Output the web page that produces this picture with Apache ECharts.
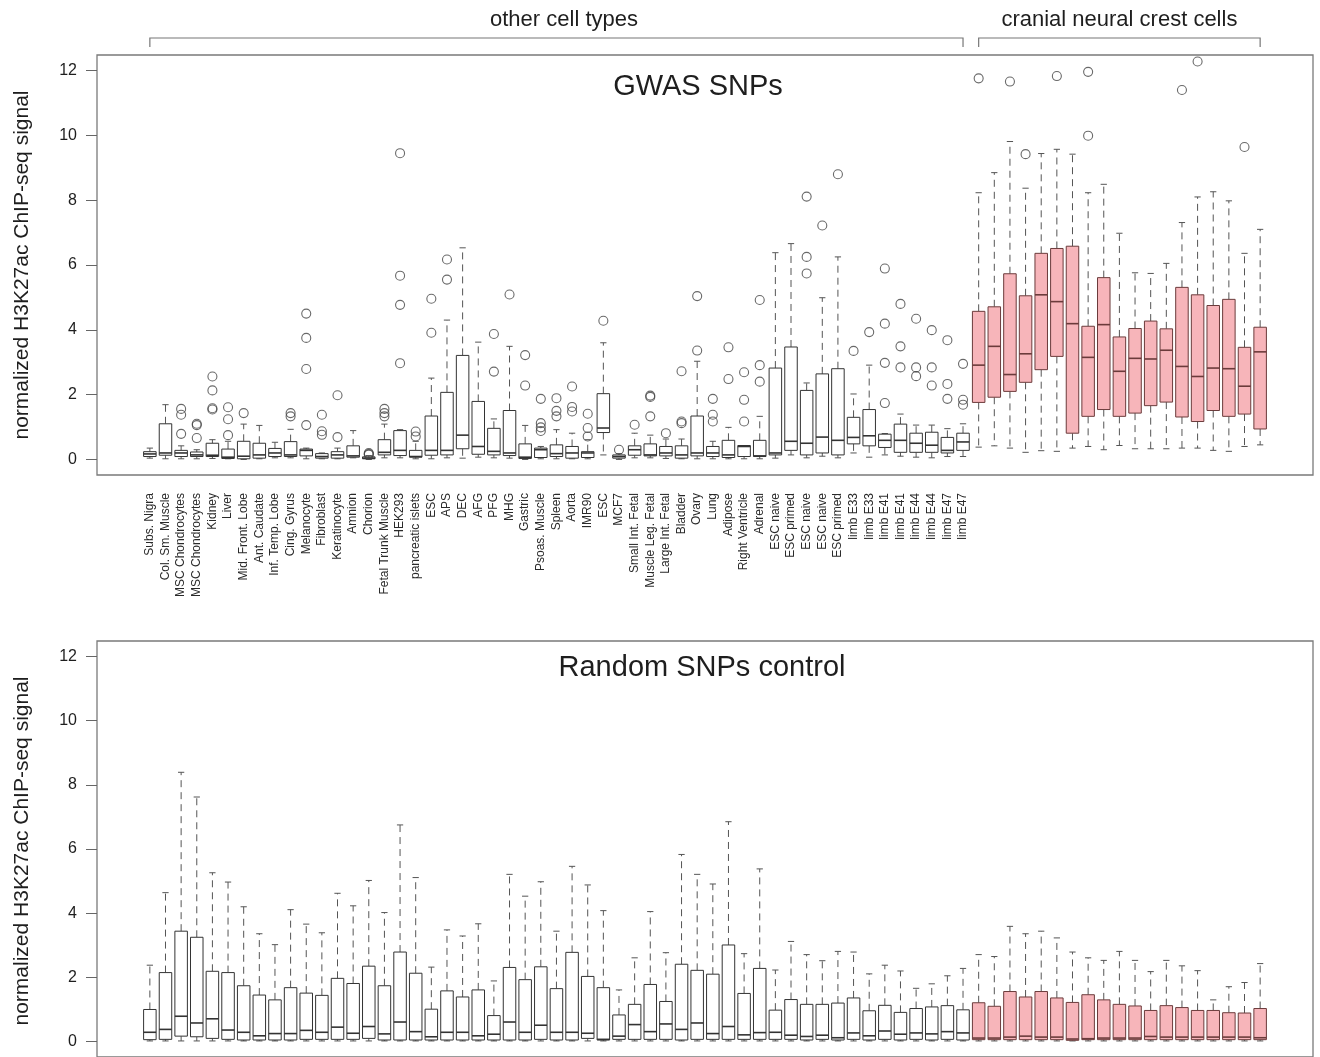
<!DOCTYPE html>
<html>
<head>
<meta charset="utf-8">
<script src="https://cdn.jsdelivr.net/npm/echarts@6/dist/echarts.min.js"></script>
<style>
html,body{margin:0;padding:0;background:#fff;}
#chart{width:1320px;height:1057px;}
</style>
</head>
<body>
<div id="chart"></div>
<script>
// ---------- DATA ----------
const otherCellTypes = ["Subs. Nigra","Col. Sm. Muscle","MSC Chondrocytes","MSC Chondrocytes","Kidney","Liver","Mid. Front. Lobe","Ant. Caudate","Inf. Temp. Lobe","Cing. Gyrus","Melanocyte","Fibroblast","Keratinocyte","Amnion","Chorion","Fetal Trunk Muscle","HEK293","pancreatic islets","ESC","APS","DEC","AFG","PFG","MHG","Gastric","Psoas. Muscle","Spleen","Aorta","IMR90","ESC","MCF7","Small Int. Fetal","Muscle Leg. Fetal","Large Int. Fetal","Bladder","Ovary","Lung","Adipose","Right Ventricle","Adrenal","ESC naive","ESC primed","ESC naive","ESC naive","ESC primed","limb E33","limb E33","limb E41","limb E41","limb E44","limb E44","limb E47","limb E47"];
const cnccCount = 19;
const yTicks = [0, 2, 4, 6, 8, 10, 12];

// GWAS SNPs panel (72 boxes: 53 other cell types + 19 CNCC)
const gwasLow  = [0.04,0.02,0.02,0.02,0.03,0.02,0.00,0.02,0.05,0.05,0.02,0.02,0.02,0.05,0.00,0.05,0.05,0.02,0.02,0.05,0.04,0.07,0.05,0.04,0.00,0.02,0.02,0.02,0.02,0.14,0.00,0.05,0.05,0.03,0.02,0.02,0.02,0.02,0.02,0.02,0.04,0.14,0.05,0.10,0.05,0.20,0.07,0.14,0.10,0.07,0.05,0.09,0.09,
                  0.38,0.42,0.35,0.22,0.27,0.25,0.35,0.40,0.30,0.43,0.33,0.33,0.33,0.35,0.35,0.28,0.25,0.40,0.45];
const gwasQ1   = [0.09,0.13,0.09,0.09,0.09,0.03,0.02,0.04,0.09,0.09,0.11,0.04,0.04,0.07,0.02,0.14,0.12,0.07,0.13,0.14,0.33,0.16,0.14,0.12,0.03,0.06,0.09,0.04,0.06,0.83,0.04,0.13,0.11,0.11,0.04,0.11,0.09,0.06,0.09,0.09,0.14,0.28,0.14,0.20,0.14,0.48,0.42,0.37,0.22,0.22,0.22,0.20,0.28,
                  1.76,1.92,2.10,2.38,2.77,3.18,0.81,1.33,1.54,1.33,1.43,1.66,1.77,1.31,1.17,1.51,1.33,1.40,0.94];
const gwasMed  = [0.17,0.20,0.20,0.14,0.13,0.07,0.10,0.14,0.20,0.14,0.28,0.09,0.14,0.11,0.04,0.22,0.28,0.09,0.28,0.28,0.75,0.40,0.25,0.20,0.07,0.30,0.18,0.20,0.20,0.97,0.09,0.30,0.14,0.20,0.14,0.20,0.20,0.14,0.40,0.11,0.20,0.56,0.50,0.69,0.59,0.68,0.73,0.59,0.59,0.50,0.44,0.28,0.54,
                  2.91,3.49,2.62,3.26,5.08,4.87,4.19,3.15,4.16,2.72,3.12,3.10,3.37,2.87,2.56,2.82,2.80,2.26,3.32];
const gwasQ3   = [0.24,1.10,0.28,0.23,0.50,0.32,0.56,0.50,0.34,0.55,0.32,0.18,0.24,0.42,0.08,0.61,0.89,0.28,1.34,2.07,3.21,1.79,0.96,1.51,0.48,0.35,0.45,0.40,0.24,2.03,0.14,0.42,0.48,0.40,0.42,1.34,0.40,0.59,0.43,0.59,2.82,3.47,2.13,2.64,2.80,1.30,1.54,0.78,1.09,0.81,0.84,0.68,0.81,
                  4.57,4.71,5.73,5.05,6.36,6.51,6.58,4.11,5.61,3.78,4.04,4.27,4.03,5.31,5.08,4.75,4.94,3.46,4.08];
const gwasHigh = [0.35,1.69,0.42,0.30,0.61,0.56,1.09,1.05,0.53,0.93,0.35,0.20,0.35,0.89,0.12,1.09,0.92,0.56,2.51,4.30,6.53,3.62,1.25,3.49,1.05,0.40,0.92,0.81,0.61,3.60,0.18,0.81,0.75,0.63,0.63,3.03,0.56,0.99,0.43,1.33,6.38,6.66,2.36,4.99,6.25,2.02,2.91,0.80,1.40,1.06,1.06,0.95,1.10,
                  8.23,8.85,9.81,8.37,9.44,9.57,9.42,8.23,8.49,6.98,5.76,5.74,6.05,7.31,8.10,8.26,7.98,6.36,7.10];
const gwasOutliers = [[],[],[1.56,1.38,0.79],[1.10,1.06,0.66],[2.56,2.13,1.58,1.54],[1.61,1.24,0.75],[1.43],[],[],[1.43,1.33],
  [4.50,3.75,2.79,1.06],[1.38,0.87,0.76],[1.98,0.69],[],[0.20,0.17,0.15],[1.56,1.43,1.33],[9.45,5.67,4.77,2.97],[0.86,0.71],[4.96,3.91],[6.17,5.55],
  [],[],[3.87,2.71],[5.09],[3.22,2.28],[1.87,1.12,0.99,0.88],[1.89,1.50,1.33],[2.25,1.62,1.48],[1.41,0.97,0.71],[4.28],
  [0.30],[1.07],[1.97,1.93,1.33],[0.81],[2.72,1.17,1.12],[5.04,3.36],[1.87,1.38,1.17],[3.46,2.48],[2.69,1.84,1.17],[4.92,2.91,2.40],
  [],[],[8.11,6.25,5.74],[7.22],[8.80],[3.35],[3.93],[5.89,4.19,2.98,1.74],[4.80,3.49,2.84],[4.34,2.84,2.57],
  [3.99,2.84,2.28],[3.68,2.33,1.87],[2.95,1.84,1.69],
  [11.76],[],[11.66],[9.42],[],[11.83],[],[11.96,9.99],[],[],[],[],[],[11.40],[12.28],[],[],[9.64],[]];

// Random SNPs control panel
const randLow  = [0.02,0.02,0.02,0.02,0.02,0.02,0.02,0.02,0.02,0.02,0.02,0.02,0.02,0.02,0.02,0.02,0.02,0.02,0.02,0.02,0.02,0.02,0.02,0.02,0.02,0.02,0.02,0.02,0.02,0.02,0.02,0.02,0.02,0.02,0.02,0.02,0.02,0.02,0.02,0.02,0.02,0.02,0.02,0.02,0.02,0.02,0.02,0.02,0.02,0.02,0.02,0.02,0.02,
                  0.02,0.02,0.02,0.02,0.02,0.02,0.02,0.02,0.02,0.02,0.02,0.02,0.02,0.02,0.02,0.02,0.02,0.02,0.02];
const randQ1   = [0.06,0.07,0.17,0.15,0.10,0.07,0.05,0.05,0.05,0.05,0.07,0.07,0.07,0.07,0.10,0.05,0.05,0.05,0.05,0.05,0.05,0.05,0.05,0.05,0.05,0.07,0.05,0.05,0.10,0.05,0.07,0.07,0.07,0.07,0.05,0.07,0.07,0.07,0.07,0.07,0.07,0.07,0.05,0.07,0.05,0.07,0.05,0.07,0.05,0.07,0.05,0.07,0.05,
                  0.06,0.06,0.06,0.06,0.06,0.06,0.04,0.06,0.06,0.06,0.06,0.06,0.06,0.06,0.06,0.06,0.06,0.06,0.06];
const randMed  = [0.29,0.38,0.79,0.58,0.71,0.36,0.29,0.18,0.25,0.25,0.35,0.29,0.45,0.26,0.47,0.24,0.61,0.31,0.15,0.29,0.29,0.18,0.23,0.61,0.29,0.51,0.29,0.29,0.26,0.07,0.17,0.53,0.31,0.55,0.38,0.58,0.25,0.47,0.21,0.28,0.29,0.20,0.16,0.20,0.12,0.27,0.18,0.33,0.23,0.27,0.24,0.31,0.27,
                  0.11,0.11,0.14,0.17,0.14,0.14,0.08,0.09,0.11,0.11,0.11,0.16,0.14,0.14,0.14,0.14,0.14,0.14,0.12];
const randQ3   = [1.00,2.15,3.44,3.25,2.19,2.15,1.74,1.45,1.30,1.68,1.51,1.44,1.97,1.81,2.35,1.74,2.79,2.13,1.01,1.58,1.39,1.61,0.81,2.31,1.93,2.33,1.65,2.78,2.03,1.68,0.83,1.16,1.78,1.25,2.41,2.22,2.10,3.01,1.50,2.28,0.98,1.31,1.16,1.16,1.20,1.36,0.96,1.13,0.91,1.03,1.08,1.12,0.99,
                  1.21,1.10,1.56,1.39,1.56,1.36,1.22,1.46,1.30,1.16,1.11,0.97,1.12,1.06,0.97,0.97,0.90,0.89,1.03];
const randHigh = [2.38,4.64,8.39,7.62,5.26,4.97,4.20,3.36,3.02,4.11,3.66,3.39,4.62,4.23,5.02,4.02,6.75,5.11,2.32,3.48,3.29,3.67,1.89,5.21,4.53,4.98,3.44,5.46,4.88,4.08,1.61,2.61,4.05,2.77,5.83,5.21,4.91,6.85,2.74,5.38,2.23,3.12,2.71,2.52,2.81,2.79,2.11,2.38,2.20,1.66,1.80,2.05,2.28,
                  2.71,2.65,3.59,3.36,3.44,3.23,2.79,2.61,2.53,2.81,2.53,2.18,2.53,2.36,2.21,1.30,1.71,1.84,2.43];

// ---------- BUILD ----------
const nBoxes = otherCellTypes.length + cnccCount;
const firstCncc = otherCellTypes.length + 1;
function boxRows(lo, q1, md, q3, hi) {
  return lo.map((v, k) => [k + 1, lo[k], q1[k], md[k], q3[k], hi[k]]);
}
function outlierRows(list) {
  const out = [];
  list.forEach((vals, k) => vals.forEach(v => out.push([k + 1, v])));
  return out;
}
const PINK = '#F7B5BA';
const BOX_STROKE = '#333';
const PINK_STROKE = '#6b3b3b';
function renderBox(params, api) {
  const i = api.value(0);
  const x = api.coord([i, 0])[0];
  const hw = api.size([0.8, 0])[0] / 2;
  const cw = hw / 2;
  const yLo = api.coord([i, api.value(1)])[1];
  const yQ1 = api.coord([i, api.value(2)])[1];
  const yMd = api.coord([i, api.value(3)])[1];
  const yQ3 = api.coord([i, api.value(4)])[1];
  const yHi = api.coord([i, api.value(5)])[1];
  const pink = i >= firstCncc;
  const stroke = pink ? PINK_STROKE : BOX_STROKE;
  const dash = {stroke: '#555', lineWidth: 1, lineDash: [7, 5]};
  const solid = {stroke: '#555', lineWidth: 1};
  return {
    type: 'group',
    children: [
      {type: 'line', shape: {x1: x, y1: yQ3, x2: x, y2: yHi}, style: dash},
      {type: 'line', shape: {x1: x, y1: yQ1, x2: x, y2: yLo}, style: dash},
      {type: 'line', shape: {x1: x - cw, y1: yHi, x2: x + cw, y2: yHi}, style: solid},
      {type: 'line', shape: {x1: x - cw, y1: yLo, x2: x + cw, y2: yLo}, style: solid},
      {type: 'rect', shape: {x: x - hw, y: yQ3, width: 2 * hw, height: Math.max(yQ1 - yQ3, 1)},
        style: {fill: pink ? PINK : '#fff', stroke: stroke, lineWidth: 1}},
      {type: 'line', shape: {x1: x - hw, y1: yMd, x2: x + hw, y2: yMd}, style: {stroke: stroke, lineWidth: 1.6}}
    ]
  };
}
const FONT = 'Liberation Sans, Arial, sans-serif';
const TXT = '#1e1e1e';
const catValues = otherCellTypes.map((_, k) => k + 1);

function yAxisDef(idx) {
  return {
    type: 'value', gridIndex: idx, min: -0.48, max: 12.48, position: 'left',
    axisLine: {show: false, onZero: false},
    splitLine: {show: false},
    axisTick: {show: true, inside: false, length: 11, customValues: yTicks, lineStyle: {color: '#666', width: 1}},
    axisLabel: {customValues: yTicks, margin: 20, fontSize: 16, color: TXT, fontFamily: FONT}
  };
}

const chart = echarts.init(document.getElementById('chart'), null, {renderer: 'canvas'});
chart.setOption({
  backgroundColor: '#fff',
  animation: false,
  grid: [
    {left: 97, top: 55, width: 1216, height: 420, show: true, borderColor: '#7a7a7a', borderWidth: 1.3, backgroundColor: 'transparent'},
    {left: 97, top: 641, width: 1216, height: 420, show: true, borderColor: '#7a7a7a', borderWidth: 1.3, backgroundColor: 'transparent'}
  ],
  xAxis: [
    {type: 'value', gridIndex: 0, min: -2.38, max: 75.38, position: 'bottom', splitLine: {show: false},
      axisLine: {show: false, onZero: false}, axisTick: {show: false},
      axisLabel: {customValues: catValues, rotate: 90, margin: 18, fontSize: 12, color: '#2a2a2a', fontFamily: FONT,
        formatter: v => otherCellTypes[Math.round(v) - 1] || ''}},
    {type: 'value', gridIndex: 1, min: -2.38, max: 75.38, position: 'bottom', splitLine: {show: false},
      axisLine: {show: false, onZero: false}, axisTick: {show: false}, axisLabel: {show: false}}
  ],
  yAxis: [yAxisDef(0), yAxisDef(1)],
  series: [
    {type: 'custom', xAxisIndex: 0, yAxisIndex: 0, renderItem: renderBox,
      encode: {x: 0, y: [1, 2, 3, 4, 5]}, data: boxRows(gwasLow, gwasQ1, gwasMed, gwasQ3, gwasHigh), z: 2},
    {type: 'scatter', xAxisIndex: 0, yAxisIndex: 0, symbol: 'circle', symbolSize: 9,
      itemStyle: {color: 'rgba(0,0,0,0)', borderColor: '#444', borderWidth: 1.1},
      data: outlierRows(gwasOutliers), z: 3},
    {type: 'custom', xAxisIndex: 1, yAxisIndex: 1, renderItem: renderBox,
      encode: {x: 0, y: [1, 2, 3, 4, 5]}, data: boxRows(randLow, randQ1, randMed, randQ3, randHigh), z: 2}
  ]
});

// annotations positioned through the axis scale
const px = v => chart.convertToPixel({xAxisIndex: 0}, v);
const xA = px(1), xB = px(otherCellTypes.length), xC = px(firstCncc), xD = px(nBoxes);
const bracketY = 38, bracketTick = 47;
const lineStyle = {stroke: '#777', lineWidth: 1.2, fill: null};
function bracket(x1, x2) {
  return {type: 'polyline', shape: {points: [[x1, bracketTick], [x1, bracketY], [x2, bracketY], [x2, bracketTick]]}, style: lineStyle, silent: true};
}
function text(t, x, y, size, rot) {
  return {type: 'text', x: x, y: y, rotation: rot || 0,
    style: {text: t, fontSize: size, fontFamily: FONT, fill: TXT, align: 'center', verticalAlign: 'middle'}, silent: true};
}
chart.setOption({
  graphic: [
    bracket(xA, xB), bracket(xC, xD),
    text('other cell types', 564, 20, 22),
    text('cranial neural crest cells', (xC + xD) / 2, 20, 22),
    text('GWAS SNPs', 698, 87, 29),
    text('Random SNPs control', 702, 668, 29),
    text('normalized H3K27ac ChIP-seq signal', 22, 265, 21, Math.PI / 2),
    text('normalized H3K27ac ChIP-seq signal', 22, 851, 21, Math.PI / 2)
  ]
});
</script>
</body>
</html>
